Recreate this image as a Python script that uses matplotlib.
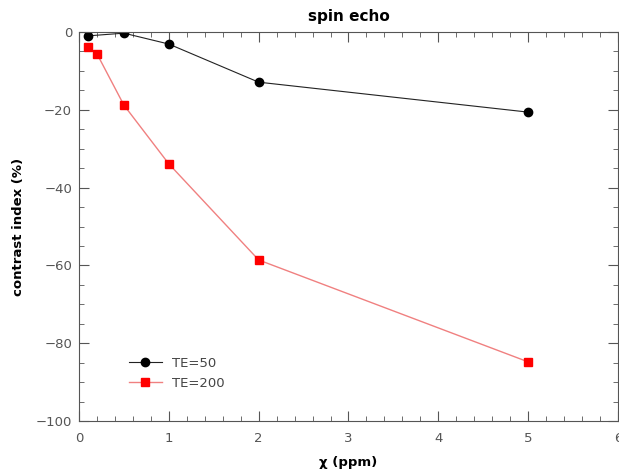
import matplotlib.pyplot as plt
from matplotlib.ticker import MultipleLocator

# contrast index vs susceptibility, spin echo
chi_te50 = [0.1, 0.5, 1.0, 2.0, 5.0]
ci_te50 = [-1.0, -0.3, -3.1, -12.9, -20.6]

chi_te200 = [0.1, 0.2, 0.5, 1.0, 2.0, 5.0]
ci_te200 = [-3.9, -5.6, -18.8, -33.9, -58.6, -84.8]

fig = plt.figure(figsize=(6.19, 4.76), dpi=100)
ax = fig.add_axes([0.1276, 0.1155, 0.8708, 0.8173])

ax.plot(chi_te50, ci_te50, color='#222222', lw=0.8, marker='o', ms=6,
        mfc='black', mec='black', label='TE=50')
ax.plot(chi_te200, ci_te200, color='#f08080', lw=1.0, marker='s', ms=6,
        mfc='red', mec='red', label='TE=200')

ax.set_xlim(0, 6)
ax.set_ylim(-100, 0)
ax.xaxis.set_major_locator(MultipleLocator(1))
ax.xaxis.set_minor_locator(MultipleLocator(0.2))
ax.yaxis.set_major_locator(MultipleLocator(20))
ax.yaxis.set_minor_locator(MultipleLocator(5))
ax.tick_params(which='both', direction='in', top=True, right=True,
               colors='#555555', labelcolor='#555555', labelsize=9.5)
ax.tick_params(which='major', length=7)
ax.tick_params(which='minor', length=3.5)
ax.tick_params(axis='x', which='major', pad=8)
ax.tick_params(axis='y', which='major', pad=5)
for s in ax.spines.values():
    s.set_color('#555555')

ax.set_title('spin echo', fontsize=11, fontweight='bold', pad=8)
ax.set_xlabel('χ (ppm)', fontsize=9.5, fontweight='bold', labelpad=8)
ax.set_ylabel('contrast index (%)', fontsize=9.5, fontweight='bold',
              labelpad=8)

leg = ax.legend(loc='lower left', bbox_to_anchor=(0.07, 0.05), frameon=False,
                fontsize=9.5, handlelength=2.5)
for t in leg.get_texts():
    t.set_color('#444444')

fig.savefig('out.png', dpi=100)
